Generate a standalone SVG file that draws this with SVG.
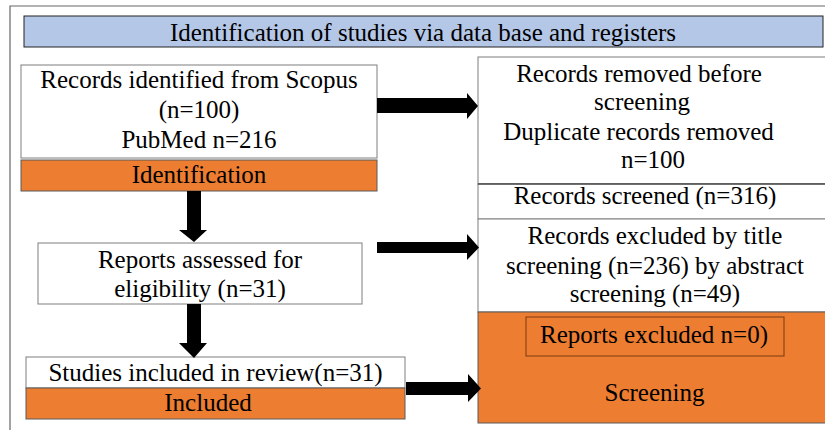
<svg xmlns="http://www.w3.org/2000/svg" width="825" height="430" viewBox="0 0 825 430">
<style>
text{font-family:"Liberation Serif","Times New Roman",serif;font-size:25px;fill:#000;text-anchor:middle}
.box{fill:#fff;stroke:#7f7f7f;stroke-width:1}
.org{fill:#ed7d31;stroke:#5a5a5a;stroke-width:1}
.arr{fill:#000}
</style>
<rect width="825" height="430" fill="#fff"/>
<path d="M10,430 V6 H825" fill="none" stroke="#666" stroke-width="1.2"/>
<g id="title">
<rect x="24" y="16" width="799" height="31" fill="#b4c7e7" stroke="#222" stroke-width="1"/>
<text x="423" y="41">Identification of studies via data base and registers</text>
</g>
<g id="records-identified">
<rect class="box" x="21" y="65" width="356" height="93"/>
<text x="199" y="88">Records identified from Scopus</text>
<text x="199" y="118">(n=100)</text>
<text x="199" y="148">PubMed n=216</text>
</g>
<g id="identification">
<rect class="org" x="21" y="160" width="356" height="31"/>
<text x="199" y="183">Identification</text>
</g>
<g id="reports-assessed">
<rect class="box" x="38" y="243" width="324" height="61"/>
<text x="200" y="268">Reports assessed for</text>
<text x="200" y="297">eligibility (n=31)</text>
</g>
<g id="studies-included">
<rect class="box" x="26" y="357" width="379" height="31"/>
<text x="215.5" y="381">Studies included in review(n=31)</text>
</g>
<g id="included">
<rect class="org" x="26" y="388" width="379" height="31"/>
<text x="208" y="411">Included</text>
</g>
<g id="records-removed">
<rect x="478" y="57" width="350" height="127" fill="#fff" stroke="#7f7f7f" stroke-width="1"/>
<text x="639" y="82">Records removed before</text>
<text x="642" y="110">screening</text>
<text x="638.5" y="140">Duplicate records removed</text>
<text x="653" y="168">n=100</text>
</g>
<g id="records-screened">
<rect x="478" y="184" width="350" height="35" fill="#fff" stroke="#7f7f7f" stroke-width="1"/>
<line x1="478" y1="184" x2="825" y2="184" stroke="#222" stroke-width="1"/>
<text x="645" y="204">Records screened (n=316)</text>
</g>
<g id="records-excluded">
<rect x="478" y="219" width="350" height="93" fill="#fff" stroke="#7f7f7f" stroke-width="1"/>
<text x="655" y="244">Records excluded by title</text>
<text x="655" y="274">screening (n=236) by abstract</text>
<text x="655" y="302">screening (n=49)</text>
</g>
<g id="screening">
<rect x="478" y="312" width="350" height="111" fill="#ed7d31" stroke="#5a5a5a" stroke-width="1"/>
<text x="654.5" y="401">Screening</text>
</g>
<g id="reports-excluded">
<rect x="526" y="317" width="258" height="39" fill="#ed7d31" stroke="#7a3a10" stroke-width="1"/>
<text x="654" y="343">Reports excluded n=0)</text>
</g>
<g id="connectors">
<polygon class="arr" points="377,98 467,98 467,93 478,106 467,119 467,113 377,113"/>
<polygon class="arr" points="377,242 467,242 467,234 479,247.5 467,260 467,253 377,253"/>
<polygon class="arr" points="406,382 468,382 468,374 481,388.5 468,402 468,395 406,395"/>
<polygon class="arr" points="187,191 201,191 201,230 207,230 194,242 179,230 187,230"/>
<polygon class="arr" points="187,304 201,304 201,343 207,343 194,358 179,343 187,343"/>
</g>
</svg>
